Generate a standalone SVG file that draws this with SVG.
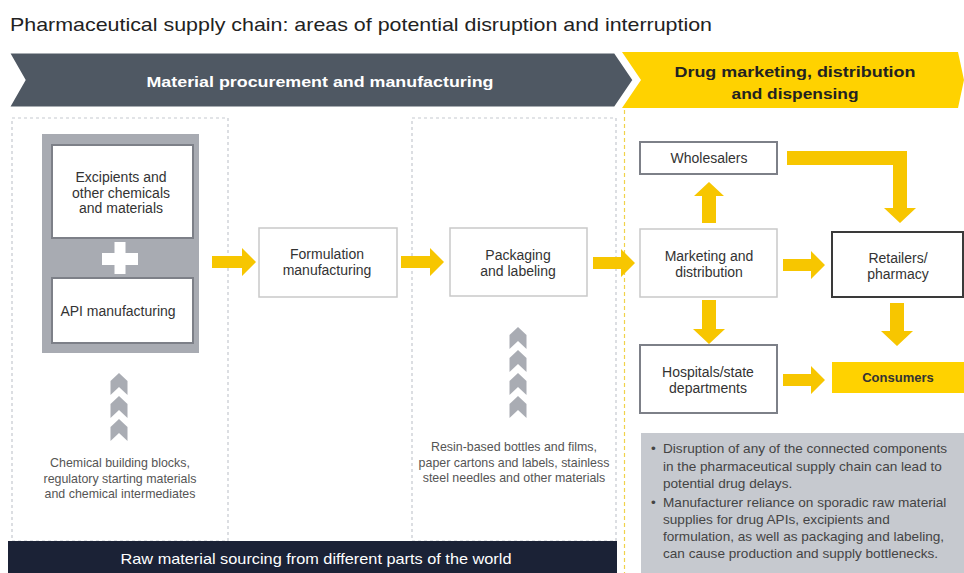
<svg xmlns="http://www.w3.org/2000/svg" xmlns:xlink="http://www.w3.org/1999/xlink" width="964" height="573" viewBox="0 0 964 573">
<style>
.t{font-family:"Liberation Sans",Arial,sans-serif;fill:#333;font-size:14px;text-anchor:middle}
.s{font-family:"Liberation Sans",Arial,sans-serif;fill:#555;font-size:12.4px;text-anchor:middle}
.b{font-family:"Liberation Sans",Arial,sans-serif;fill:#444;font-size:13.6px}
.hb{font-family:"Liberation Sans",Arial,sans-serif;font-weight:bold;font-size:15px;text-anchor:middle}
.ya{fill:#F7C600}
.box{fill:#fff;stroke:#c9c9c9;stroke-width:1.5}
.box2{fill:#fff;stroke:#7d8088;stroke-width:2}
.dash{fill:none;stroke:#c5c9cf;stroke-width:1.2;stroke-dasharray:3 3}
.chev{fill:#a9acb3}
</style>
<defs>
<polygon id="chev" points="0,0 8.5,8 8.5,22 0,14 -8.5,22 -8.5,8"/>
</defs>
<rect width="964" height="573" fill="#fff"/>
<text x="10" y="31" font-family="'Liberation Sans',Arial,sans-serif" font-size="19" fill="#222" textLength="702" lengthAdjust="spacingAndGlyphs">Pharmaceutical supply chain: areas of potential disruption and interruption</text>

<g id="banner-yellow">
<polygon points="622,52 958,52 964,80 958,108 622,108 641,80" fill="#FFD200"/>
<text class="hb" x="795" y="77" fill="#222" textLength="241" lengthAdjust="spacingAndGlyphs">Drug marketing, distribution</text>
<text class="hb" x="795" y="99" fill="#222" textLength="127" lengthAdjust="spacingAndGlyphs">and dispensing</text>
</g>
<g id="banner-grey">
<polygon points="8,52 615,52 634,80 615,108 8,108 24,80" fill="#4F5863" stroke="#fff" stroke-width="3" stroke-linejoin="miter"/>
<text class="hb" x="320" y="87" fill="#fff" textLength="347" lengthAdjust="spacingAndGlyphs">Material procurement and manufacturing</text>
</g>

<rect class="dash" x="12" y="118" width="216" height="423"/>
<rect class="dash" x="412" y="118" width="204" height="423"/>
<line x1="624.5" y1="110" x2="624.5" y2="573" stroke="#F0D24A" stroke-width="1.2" stroke-dasharray="4 3"/>

<g id="materials-group">
<rect x="42" y="134" width="157" height="219" fill="#A8ABB2"/>
<rect x="102" y="253" width="36" height="12" fill="#fff"/>
<rect x="114.5" y="242" width="11" height="32" fill="#fff"/>
</g>
<g id="excipients">
<rect class="box2" x="52" y="145" width="141" height="93"/>
<text class="t" x="121" y="182">Excipients and</text>
<text class="t" x="121" y="198">other chemicals</text>
<text class="t" x="121" y="213">and materials</text>
</g>
<g id="api">
<rect class="box2" x="52" y="278" width="141" height="65"/>
<text class="t" x="118" y="316">API manufacturing</text>
</g>

<g id="chemical-inputs">
<use xlink:href="#chev" href="#chev" x="119" y="373" class="chev"/>
<use xlink:href="#chev" href="#chev" x="119" y="396" class="chev"/>
<use xlink:href="#chev" href="#chev" x="119" y="419" class="chev"/>
<text class="s" x="120" y="467">Chemical building blocks,</text>
<text class="s" x="120" y="483">regulatory starting materials</text>
<text class="s" x="120" y="498">and chemical intermediates</text>
</g>

<g id="formulation">
<rect class="box" x="259" y="228" width="138" height="69"/>
<text class="t" x="327" y="259">Formulation</text>
<text class="t" x="327" y="275">manufacturing</text>
</g>
<g id="packaging">
<rect class="box" x="450" y="228" width="137" height="68"/>
<text class="t" x="518" y="260">Packaging</text>
<text class="t" x="518" y="276">and labeling</text>
</g>

<g id="packaging-inputs">
<use xlink:href="#chev" href="#chev" x="518" y="327" class="chev"/>
<use xlink:href="#chev" href="#chev" x="518" y="350" class="chev"/>
<use xlink:href="#chev" href="#chev" x="518" y="373" class="chev"/>
<use xlink:href="#chev" href="#chev" x="518" y="396" class="chev"/>
<text class="s" x="514" y="451">Resin-based bottles and films,</text>
<text class="s" x="514" y="467">paper cartons and labels, stainless</text>
<text class="s" x="514" y="482">steel needles and other materials</text>
</g>

<g id="raw-material">
<rect x="8" y="541" width="609" height="32" fill="#1B2236"/>
<text x="316" y="564" font-family="'Liberation Sans',Arial,sans-serif" font-size="15" fill="#fff" text-anchor="middle" textLength="391" lengthAdjust="spacingAndGlyphs">Raw material sourcing from different parts of the world</text>
</g>

<g id="wholesalers">
<rect class="box2" x="640" y="142" width="137" height="32"/>
<text class="t" x="709" y="163">Wholesalers</text>
</g>
<g id="marketing">
<rect class="box" x="640" y="229" width="137" height="68"/>
<text class="t" x="709" y="261">Marketing and</text>
<text class="t" x="709" y="277">distribution</text>
</g>
<g id="retailers">
<rect x="832" y="232" width="131" height="65" fill="#fff" stroke="#3a3a3a" stroke-width="2"/>
<text class="t" x="898" y="263">Retailers/</text>
<text class="t" x="898" y="279">pharmacy</text>
</g>
<g id="hospitals">
<rect class="box2" x="640" y="345" width="137" height="68"/>
<text class="t" x="708" y="377">Hospitals/state</text>
<text class="t" x="708" y="393">departments</text>
</g>
<g id="consumers">
<rect x="832" y="362" width="132" height="31" fill="#FFD200"/>
<text x="898" y="382" font-family="'Liberation Sans',Arial,sans-serif" font-weight="bold" font-size="13" fill="#333" text-anchor="middle">Consumers</text>
</g>

<g id="notes">
<rect x="641" y="433" width="323" height="140" fill="#C6C9CF"/>
<text class="b" x="651" y="453">•</text>
<text class="b" x="663" y="453">Disruption of any of the connected components</text>
<text class="b" x="663" y="471">in the pharmaceutical supply chain can lead to</text>
<text class="b" x="663" y="488">potential drug delays.</text>
<text class="b" x="651" y="507">•</text>
<text class="b" x="663" y="507">Manufacturer reliance on sporadic raw material</text>
<text class="b" x="663" y="524">supplies for drug APIs, excipients and</text>
<text class="b" x="663" y="541">formulation, as well as packaging and labeling,</text>
<text class="b" x="663" y="558">can cause production and supply bottlenecks.</text>
</g>

<g id="connectors">
<polygon class="ya" points="212,256 242,256 242,248 256,262 242,276 242,268 212,268"/>
<polygon class="ya" points="401,256 430,256 430,248 444,262 430,276 430,268 401,268"/>
<polygon class="ya" points="593,257 621,257 621,249 635,263 621,277 621,269 593,269"/>
<polygon class="ya" points="783,259 811,259 811,251 825,265 811,279 811,271 783,271"/>
<polygon class="ya" points="783,374 811,374 811,366 825,380 811,394 811,386 783,386"/>
<polygon class="ya" points="702,223 702,196 694,196 709,182 724,196 716,196 716,223"/>
<polygon class="ya" points="702,300 702,329 693,329 709,344 725,329 716,329 716,300"/>
<polygon class="ya" points="890,303 890,331 881,331 897,346 913,331 904,331 904,303"/>
<polygon class="ya" points="787,151 907,151 907,208 916,208 900,223 884,208 893,208 893,165 787,165"/>
</g>
</svg>
